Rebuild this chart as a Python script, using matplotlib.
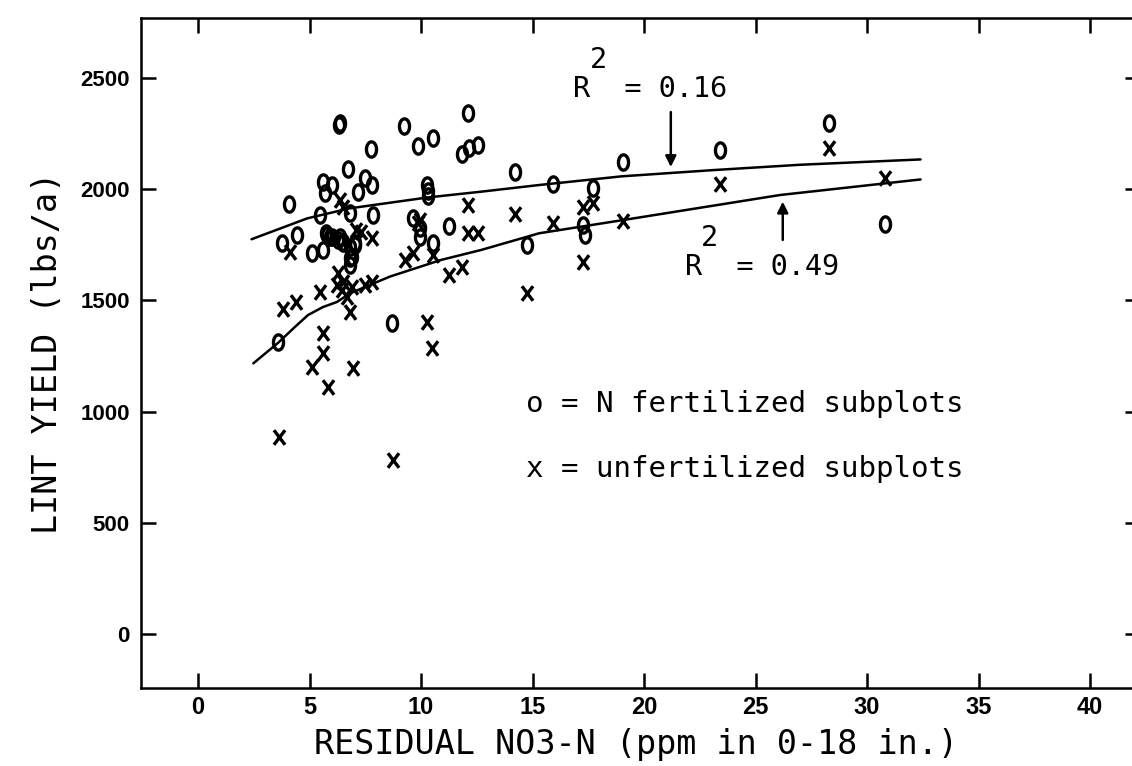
import matplotlib
matplotlib.use("Agg")
import matplotlib.pyplot as plt
import numpy as np
from matplotlib.path import Path
from matplotlib import font_manager

# ---------------- data ----------------
fert_x = [3.6, 3.75, 4.1, 4.43, 5.1, 5.47, 5.59, 5.62, 5.7, 5.74, 5.77, 5.92, 6.0, 6.0,
          6.29, 6.3, 6.35, 6.37, 6.52, 6.52, 6.74, 6.82, 6.82, 6.82, 6.82, 6.89, 7.04,
          7.04, 7.19, 7.49, 7.76, 7.79, 7.86, 8.69, 9.25, 9.65, 9.85, 9.96, 9.96, 10.28,
          10.3, 10.3, 10.52, 10.52, 11.27, 11.82, 12.12, 12.17, 12.57, 14.22, 14.74,
          15.93, 17.28, 17.35, 17.73, 19.07, 23.41, 28.31, 30.81]
fert_y = [1315, 1757, 1932, 1794, 1712, 1884, 2034, 1727, 1982, 1801, 1794, 1787, 2019, 1787,
          1772, 2290, 2300, 1787, 1764, 1757, 2089, 1891, 1742, 1689, 1659, 1697, 1757,
          1749, 1989, 2049, 2179, 2019, 1884, 1397, 2284, 1869, 2196, 1824, 1787, 2019,
          1990, 1970, 2229, 1757, 1835, 2158, 2341, 2187, 2201, 2079, 1749,
          2023, 1839, 1794, 2004, 2124, 2176, 2299, 1844]

unfert_x = [3.65, 3.8, 4.4, 4.13, 5.1, 5.47, 5.62, 5.62, 5.84, 6.22, 6.29, 6.44, 6.37,
            6.52, 6.52, 6.67, 6.82, 6.89, 6.96, 7.1, 7.3, 7.49, 7.79, 7.79, 8.73, 9.28,
            9.66, 9.88, 9.96, 10.26, 10.48, 10.55, 11.27, 11.82, 12.12, 12.12, 12.57,
            14.22, 14.74, 15.93, 17.28, 17.73, 17.28, 19.04, 23.41, 28.31, 30.81]
unfert_y = [887, 1460, 1495, 1719, 1202, 1539, 1352, 1262, 1109, 1569, 1622, 1547, 1951,
            1918, 1584, 1517, 1449, 1562, 1195, 1817, 1809, 1569, 1584, 1779, 782, 1682,
            1712, 1847, 1861, 1404, 1285, 1704, 1614, 1652, 1929, 1802, 1802,
            1888, 1532, 1847, 1922, 1937, 1674, 1859, 2023, 2184, 2049]

# fitted curves as drawn in the picture
fit_fert_x = [2.4, 4.9, 6.8, 10.3, 12.7, 15.3, 19.0, 23.1, 27.0, 32.4]
fit_fert_y = [1775, 1869, 1914, 1963, 1989, 2019, 2058, 2086, 2110, 2134]
fit_unf_x = [2.48, 3.6, 4.35, 4.93, 5.6, 6.23, 6.82, 8.6, 10.9, 12.7, 15.3, 19.1, 26.1, 32.4]
fit_unf_y = [1217, 1310, 1381, 1434, 1470, 1493, 1532, 1607, 1682, 1727, 1802, 1862, 1974, 2044]

xticks = [0, 5, 10, 15, 20, 25, 30, 35, 40]
yticks = [0, 500, 1000, 1500, 2000, 2500]
xlabel = "RESIDUAL NO3-N (ppm in 0-18 in.)"
ylabel = "LINT YIELD (lbs/a)"
legend_lines = ["o = N fertilized subplots", "x = unfertilized subplots"]

# ---------------- fonts ----------------
names = {f.name for f in font_manager.fontManager.ttflist}
narrow = "Liberation Sans Narrow" if "Liberation Sans Narrow" in names else "Liberation Sans"
mono = "DejaVu Sans Mono"

# ---------------- figure ----------------
W, H = 1132, 766
fig = plt.figure(figsize=(W / 100, H / 100), dpi=100)
L, R, B, T = 141, 1132, 688, 18
ax = fig.add_axes([L / W, 1 - B / H, (R - L) / W, (B - T) / H])

ax.set_xlim(-2.556, 41.88)
ax.set_ylim(-243, 2770)

# markers
t = np.linspace(0, 2 * np.pi, 40)
oval = Path(np.column_stack([0.33 * np.cos(t), 0.5 * np.sin(t)]), closed=True)
cross = Path([(-0.38, -0.5), (0.38, 0.5), (-0.38, 0.5), (0.38, -0.5)],
             [Path.MOVETO, Path.LINETO, Path.MOVETO, Path.LINETO])

ax.plot(fit_fert_x, fit_fert_y, color="k", lw=1.8, solid_capstyle="round")
ax.plot(fit_unf_x, fit_unf_y, color="k", lw=1.8, solid_capstyle="round")
ax.plot(fert_x, fert_y, ls="none", marker=oval, ms=11, mfc="none", mec="k", mew=2.4)
ax.plot(unfert_x, unfert_y, ls="none", marker=cross, ms=10.5, mfc="none", mec="k", mew=2.4)

# annotations
ax.annotate("", xy=(21.2, 2100), xytext=(21.2, 2347),
            arrowprops=dict(arrowstyle="-|>", lw=1.8, color="k", mutation_scale=16,
                            shrinkA=0, shrinkB=0))
ax.annotate("", xy=(26.22, 1944), xytext=(26.22, 1772),
            arrowprops=dict(arrowstyle="-|>", lw=1.8, color="k", mutation_scale=16,
                            shrinkA=0, shrinkB=0))
ax.text(20.27, 2415, "R  = 0.16", family=mono, fontsize=20.5, ha="center", va="baseline")
ax.text(17.96, 2545, "2", family=mono, fontsize=20.5, ha="center", va="baseline")
ax.text(25.29, 1614, "R  = 0.49", family=mono, fontsize=20.5, ha="center", va="baseline")
ax.text(22.93, 1744, "2", family=mono, fontsize=20.5, ha="center", va="baseline")

ax.text(14.7, 998, legend_lines[0], family=mono, fontsize=21, ha="left", va="baseline")
ax.text(14.7, 706, legend_lines[1], family=mono, fontsize=21, ha="left", va="baseline")

# axes styling
ax.spines["right"].set_visible(False)
for s in ["left", "bottom", "top"]:
    ax.spines[s].set_linewidth(1.8)
ax.set_xticks(xticks)
ax.set_yticks(yticks)
ax.set_xticklabels([str(v) for v in xticks], family=narrow, fontweight="bold", fontsize=17)
ax.set_yticklabels([str(v) for v in yticks], family="Liberation Sans", fontweight="bold", fontsize=16)
ax.tick_params(axis="both", direction="in", length=11, width=1.8, top=True, right=False)
ax.tick_params(axis="x", pad=6)
ax.tick_params(axis="y", pad=8)

sec = ax.secondary_yaxis("right")
sec.set_yticks(yticks)
sec.tick_params(direction="in", length=5, width=1.8, labelright=False)
sec.spines["right"].set_visible(False)

ax.set_xlabel(xlabel, family=mono, fontsize=24, labelpad=6)
ax.set_ylabel(ylabel, family=mono, fontsize=24, labelpad=12)

fig.savefig("out.png", dpi=100, facecolor="white")
